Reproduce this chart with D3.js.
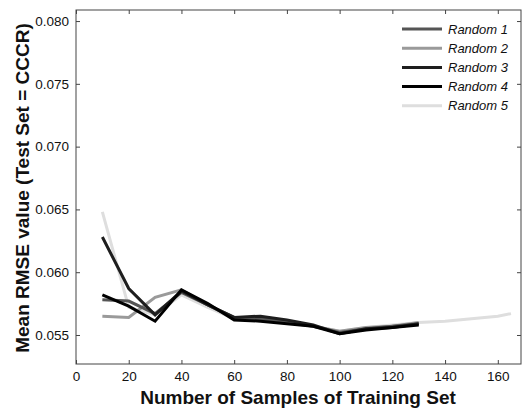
<!DOCTYPE html>
<html>
<head>
<meta charset="utf-8">
<script src="https://cdn.jsdelivr.net/npm/d3@7/dist/d3.min.js"></script>
<style>
  html, body { margin: 0; padding: 0; background: #fff; }
  svg { display: block; font-family: "Liberation Sans", Arial, sans-serif; }
</style>
</head>
<body>
<svg id="chart" width="522" height="409"></svg>
<script>
// Sample counts for the training set
const samplesShort = [10, 20, 30, 40, 50, 60, 70, 80, 90, 100, 110, 120, 130];
const samplesLong = [10, 20, 30, 40, 50, 60, 70, 80, 90, 100, 110, 120, 130, 140, 150, 160, 165];

// Mean RMSE per random split
const random1 = [0.0578, 0.0577, 0.0567, 0.0584, 0.0574, 0.0564, 0.0563, 0.0561, 0.0557, 0.0552, 0.0555, 0.0557, 0.0559];
const random2 = [0.0565, 0.0564, 0.0580, 0.0586, 0.0574, 0.0563, 0.0562, 0.0560, 0.0557, 0.0553, 0.0556, 0.0557, 0.0560];
const random3 = [0.0628, 0.0587, 0.0566, 0.0585, 0.0574, 0.0564, 0.0565, 0.0562, 0.0558, 0.0551, 0.0555, 0.0556, 0.0559];
const random4 = [0.0582, 0.0573, 0.0561, 0.0586, 0.0575, 0.0562, 0.0561, 0.0559, 0.0557, 0.0551, 0.0554, 0.0556, 0.0558];
const random5 = [0.0648, 0.0572, 0.0566, 0.0582, 0.0572, 0.0563, 0.0562, 0.0560, 0.0557, 0.0553, 0.0556, 0.0558, 0.0560, 0.0561, 0.0563, 0.0565, 0.0567];

const seriesNames = ["Random 1", "Random 2", "Random 3", "Random 4", "Random 5"];
const seriesColors = ["#555555", "#9a9a9a", "#1e1e1e", "#000000", "#dedede"];

const xTicks = [0, 20, 40, 60, 80, 100, 120, 140, 160];
const yTicks = [0.055, 0.060, 0.065, 0.070, 0.075, 0.080];

const series = [
  { name: seriesNames[0], color: seriesColors[0], xs: samplesShort, ys: random1 },
  { name: seriesNames[1], color: seriesColors[1], xs: samplesShort, ys: random2 },
  { name: seriesNames[2], color: seriesColors[2], xs: samplesShort, ys: random3 },
  { name: seriesNames[3], color: seriesColors[3], xs: samplesShort, ys: random4 },
  { name: seriesNames[4], color: seriesColors[4], xs: samplesLong, ys: random5 }
];

const svg = d3.select("#chart");
const plotLeft = 76, plotRight = 521, plotTop = 10, plotBottom = 364;

const x = d3.scaleLinear().domain([0, 168.8]).range([plotLeft, plotRight]);
const y = d3.scaleLinear().domain([0.05269, 0.08088]).range([plotBottom, plotTop]);

const axisColor = "#444";
const tickLen = 4;

// Plot box
svg.append("rect")
  .attr("x", plotLeft).attr("y", plotTop)
  .attr("width", plotRight - plotLeft).attr("height", plotBottom - plotTop)
  .attr("fill", "none").attr("stroke", axisColor).attr("stroke-width", 1);

// Bottom axis with inward ticks
const gx = svg.append("g").attr("transform", `translate(0,${plotBottom})`)
  .call(d3.axisBottom(x).tickValues(xTicks).tickSizeInner(-tickLen).tickSizeOuter(0).tickPadding(7).tickFormat(d3.format("d")));
gx.select(".domain").remove();
gx.selectAll("line").attr("stroke", axisColor);
gx.selectAll("text").attr("font-size", 13.5).attr("fill", "#111");

// Top ticks
const gxTop = svg.append("g").attr("transform", `translate(0,${plotTop})`)
  .call(d3.axisTop(x).tickValues(xTicks).tickSizeInner(-tickLen).tickSizeOuter(0).tickFormat(""));
gxTop.select(".domain").remove();
gxTop.selectAll("line").attr("stroke", axisColor);

// Left axis with inward ticks
const gy = svg.append("g").attr("transform", `translate(${plotLeft},0)`)
  .call(d3.axisLeft(y).tickValues(yTicks).tickSizeInner(-tickLen).tickSizeOuter(0).tickPadding(7).tickFormat(d3.format(".3f")));
gy.select(".domain").remove();
gy.selectAll("line").attr("stroke", axisColor);
gy.selectAll("text").attr("font-size", 13.5).attr("fill", "#111");

// Right ticks
const gyRight = svg.append("g").attr("transform", `translate(${plotRight},0)`)
  .call(d3.axisRight(y).tickValues(yTicks).tickSizeInner(-tickLen).tickSizeOuter(0).tickFormat(""));
gyRight.select(".domain").remove();
gyRight.selectAll("line").attr("stroke", axisColor);

// Series lines (lightest drawn first so darker lines sit on top)
const line = d3.line().x(d => x(d[0])).y(d => y(d[1]));
const drawOrder = [4, 1, 0, 2, 3];
svg.append("g").selectAll("path")
  .data(drawOrder.map(i => series[i]))
  .join("path")
  .attr("d", s => line(s.xs.map((v, i) => [v, s.ys[i]])))
  .attr("fill", "none")
  .attr("stroke", s => s.color)
  .attr("stroke-width", 3)
  .attr("stroke-linejoin", "miter");

// Legend
const legend = svg.append("g");
series.forEach((s, i) => {
  const ly = 29 + i * 19.2;
  legend.append("line")
    .attr("x1", 402).attr("x2", 442).attr("y1", ly).attr("y2", ly)
    .attr("stroke", s.color).attr("stroke-width", 3);
  legend.append("text")
    .attr("x", 448).attr("y", ly + 4.5)
    .attr("font-size", 13).attr("font-style", "italic").attr("fill", "#111")
    .text(s.name);
});

// Axis titles
svg.append("text")
  .attr("x", 298).attr("y", 404)
  .attr("text-anchor", "middle")
  .attr("font-size", 19).attr("font-weight", "bold").attr("fill", "#111")
  .text("Number of Samples of Training Set");

svg.append("text")
  .attr("transform", "translate(29,188) rotate(-90)")
  .attr("text-anchor", "middle")
  .attr("font-size", 19).attr("font-weight", "bold").attr("fill", "#111")
  .text("Mean RMSE value (Test Set = CCCR)");
</script>
</body>
</html>
